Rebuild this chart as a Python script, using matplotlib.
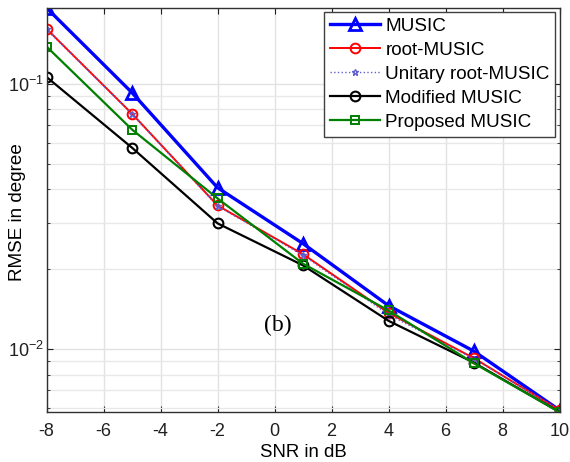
import numpy as np
import matplotlib
matplotlib.use("Agg")
import matplotlib.pyplot as plt

plt.rcParams['font.family'] = ['Liberation Sans', 'DejaVu Sans']
plt.rcParams['mathtext.default'] = 'regular'
plt.rcParams['axes.unicode_minus'] = False

# RMSE vs SNR for the five estimators
snr_db = [-8, -5, -2, 1, 4, 7, 10]
rmse_music = [0.193, 0.0925, 0.0406, 0.0250, 0.0146, 0.00983, 0.0059]
rmse_root = [0.161, 0.0771, 0.0348, 0.0228, 0.0137, 0.00925, 0.0059]
rmse_unitary = [0.160, 0.0768, 0.0346, 0.0226, 0.0135, 0.00920, 0.0059]
rmse_modified = [0.106, 0.0574, 0.0298, 0.0207, 0.0128, 0.0089, 0.0058]
rmse_proposed = [0.138, 0.0672, 0.0370, 0.0210, 0.0140, 0.00885, 0.0058]

fig = plt.figure(figsize=(5.7, 4.62), dpi=100)
ax = fig.add_axes([0.0816, 0.108, 0.9, 0.875])

ax.semilogy(snr_db, rmse_music, '-^', color='#0000ff', lw=2.4, ms=8,
            mfc='none', mew=2.0, label='MUSIC')
ax.semilogy(snr_db, rmse_root, '-o', color='#ff0000', lw=1.4, ms=7,
            mfc='none', mew=1.4, label='root-MUSIC')
ax.semilogy(snr_db, rmse_unitary, ':*', color='#6060d0', lw=1.0, ms=5,
            mfc='none', mew=1.0, label='Unitary root-MUSIC')
ax.semilogy(snr_db, rmse_modified, '-o', color='#000000', lw=1.6, ms=7,
            mfc='none', mew=1.5, label='Modified MUSIC')
ax.semilogy(snr_db, rmse_proposed, '-s', color='#008000', lw=1.6, ms=6,
            mfc='none', mew=1.4, label='Proposed MUSIC')

ax.set_xlim(-8, 10)
ax.set_ylim(0.0058, 0.193)
ax.set_xticks(np.arange(-8, 11, 2))

ax.grid(True, which='major', color='#e2e2e2', lw=1.0)
ax.grid(True, which='minor', axis='y', color='#e8e8e8', lw=1.0)
ax.set_axisbelow(True)
ax.tick_params(which='both', direction='in', top=True, right=True,
               labelsize=13, colors='#202020')
ax.tick_params(which='major', length=4)
ax.tick_params(which='minor', length=2.5)
ax.tick_params(axis='x', pad=8)
ax.tick_params(axis='y', pad=2)
for sp in ax.spines.values():
    sp.set_color('#303030')
    sp.set_linewidth(1.0)

ax.set_xlabel('SNR in dB', fontsize=13.4, labelpad=3)
ax.set_ylabel('RMSE in degree', fontsize=13.6)
ax.yaxis.set_label_coords(-0.04, 0.495)

ax.text(0.1, 0.0123, '(b)', family='Liberation Serif', fontsize=17,
        ha='center', va='center')

leg = ax.legend(loc='upper right', fontsize=13.6, handlelength=2.65,
                handletextpad=0.27, borderpad=0.3, labelspacing=0.36,
                borderaxespad=0.22, fancybox=False, framealpha=1,
                edgecolor='#404040')
leg.get_frame().set_linewidth(1.0)

fig.savefig('out.png', dpi=100, facecolor='white')
